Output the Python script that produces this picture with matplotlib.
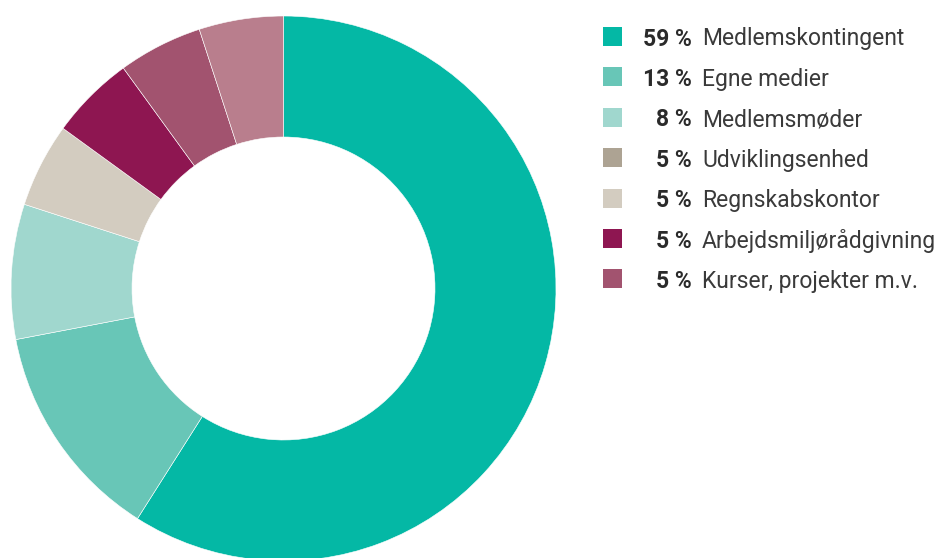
import matplotlib.pyplot as plt
from matplotlib.patches import Rectangle

# legend entries
legend_labels = ["Medlemskontingent", "Egne medier", "Medlemsmøder", "Udviklingsenhed",
                 "Regnskabskontor", "Arbejdsmiljørådgivning", "Kurser, projekter m.v."]
legend_values = [59, 13, 8, 5, 5, 5, 5]
legend_colors = ["#04b8a5", "#68c6b7", "#a0d7ce", "#ada393", "#d3ccc0", "#8e1651", "#a2536f"]

# slices as drawn in the ring (clockwise from the top)
slice_values = [59, 13, 8, 5, 5, 5, 5]
slice_colors = ["#04b8a5", "#68c6b7", "#a0d7ce", "#d3ccc0", "#8e1651", "#a2536f", "#b97e8d"]

W, H = 950, 558
fig = plt.figure(figsize=(W / 100, H / 100), dpi=100)

cx, cy, r = 283.5, 558 - 288.5, 272.5
ax = fig.add_axes([(cx - r) / W, (cy - r) / H, 2 * r / W, 2 * r / H])
ax.pie(slice_values, colors=slice_colors, startangle=90, counterclock=False,
       radius=1, wedgeprops=dict(width=1 - 151.5 / 272.5, edgecolor="white", linewidth=0.4))
ax.set_xlim(-1, 1)
ax.set_ylim(-1, 1)
ax.set_aspect("equal")
ax.axis("off")

# legend drawn in figure pixel coordinates
lg = fig.add_axes([0, 0, 1, 1])
lg.set_xlim(0, W)
lg.set_ylim(H, 0)
lg.axis("off")
lg.patch.set_alpha(0)

y0, dy = 36.5, 40.4
for i, (lab, val, col) in enumerate(zip(legend_labels, legend_values, legend_colors)):
    y = y0 + i * dy
    lg.add_patch(Rectangle((603, y - 9.5), 19, 19, color=col, lw=0))
    lg.text(692, y, f"{val} %", ha="right", va="center_baseline", fontsize=16.5,
            fontweight="bold", family="Roboto", color="#2a2a2a")
    lg.text(702, y, lab, ha="left", va="center_baseline", fontsize=16.5,
            fontweight="normal", family="Roboto", color="#3a3a3a")

fig.savefig("out.png", dpi=100)
